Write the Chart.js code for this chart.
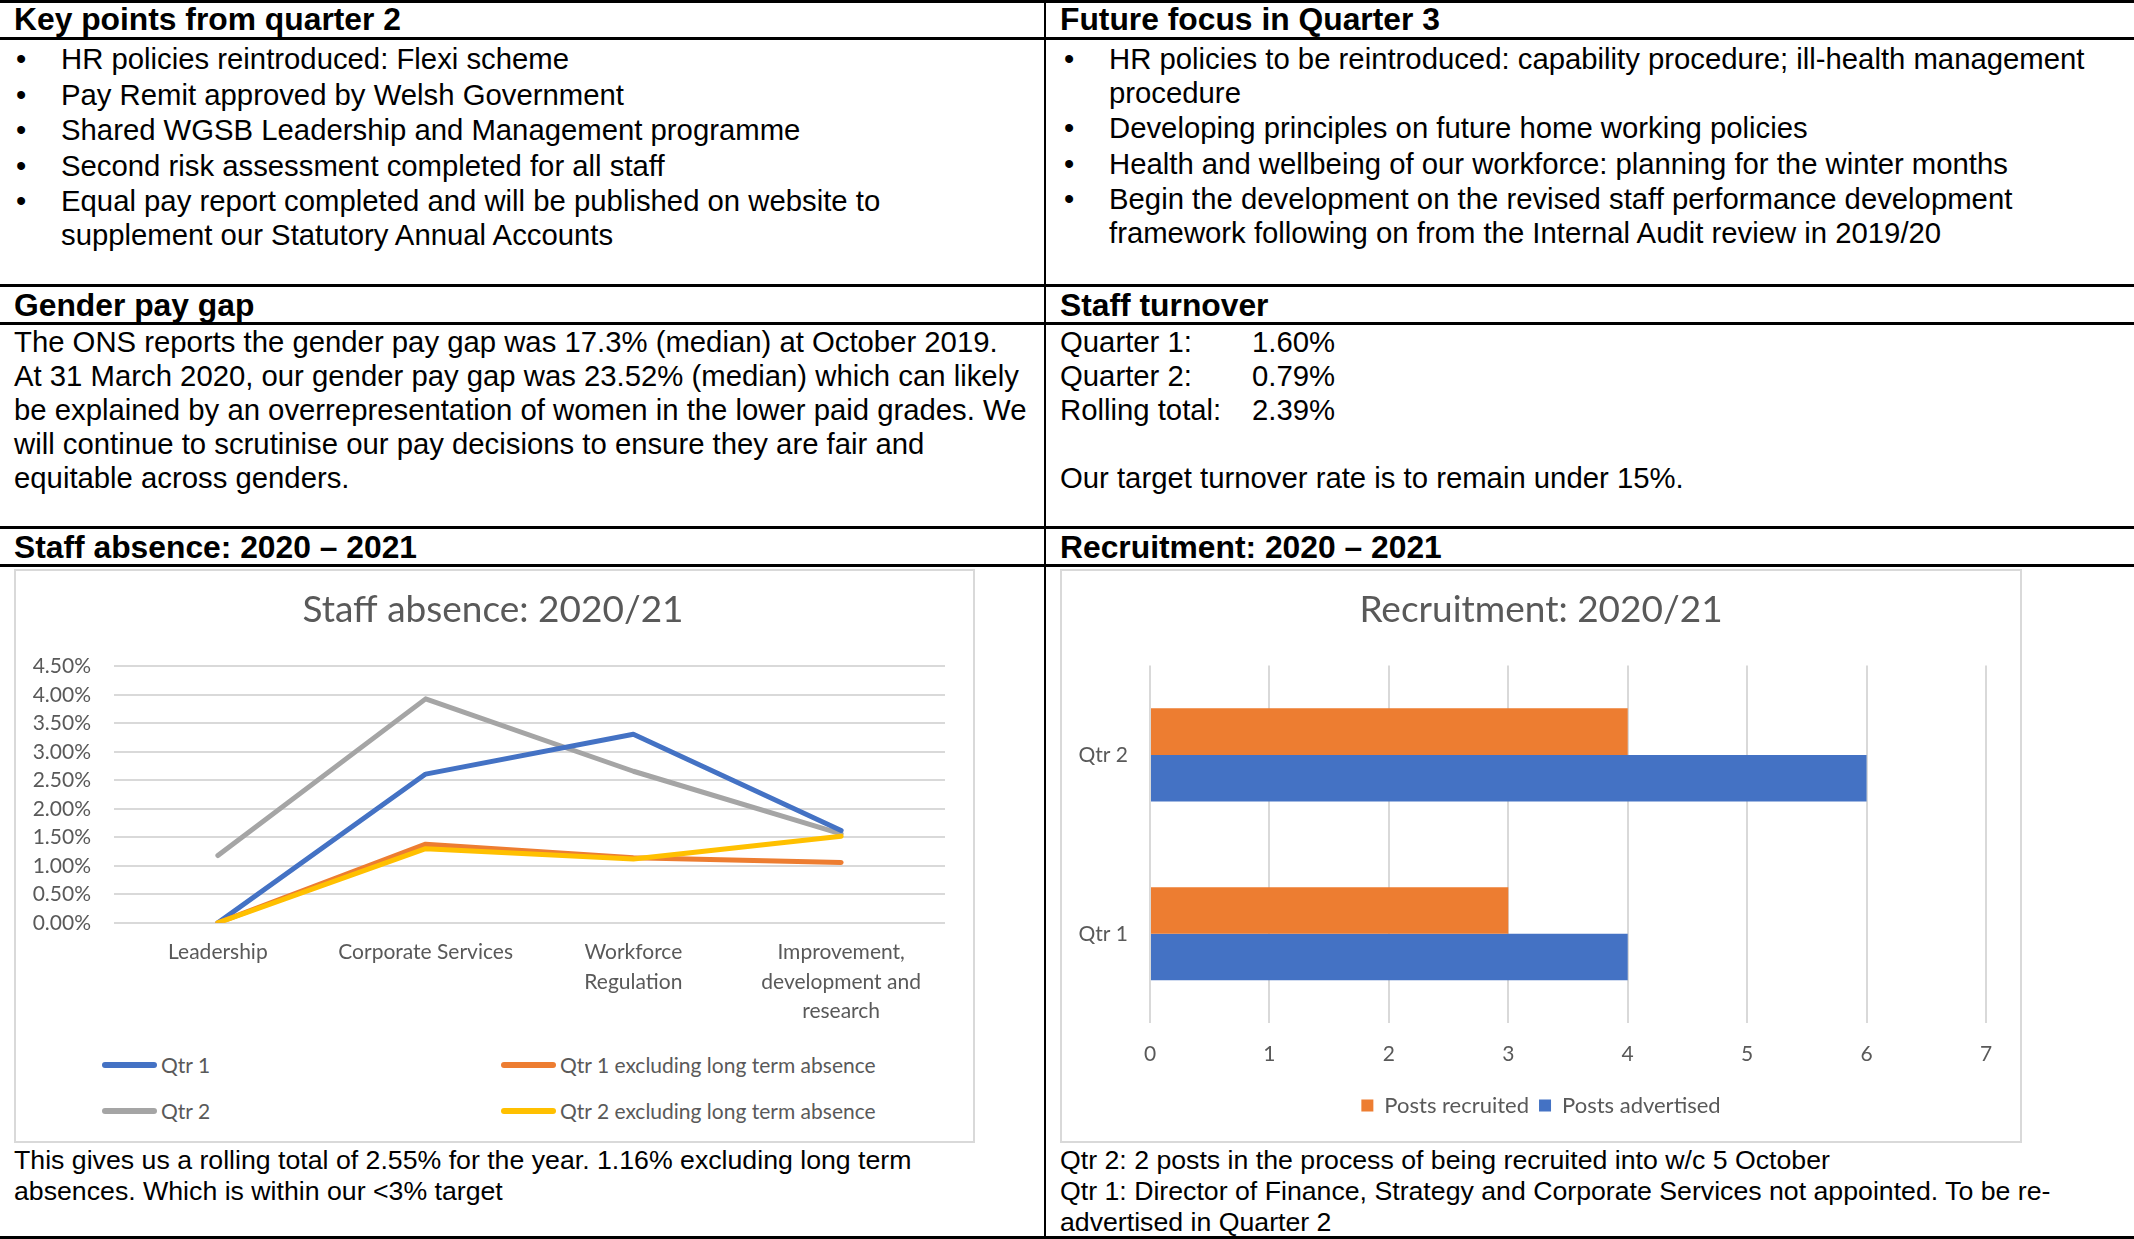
<!DOCTYPE html>
<html>
<head>
<meta charset="utf-8">
<title>Workforce report - quarter 2</title>
<script src="https://cdn.jsdelivr.net/npm/chart.js@4.4.0/dist/chart.umd.min.js"></script>
<style>
body { margin:0; width:2134px; height:1239px; position:relative; overflow:hidden; background:#fff; color:#000; font-family:"Liberation Sans", Arial, sans-serif; }
.hline { position:absolute; left:0; width:2134px; height:3px; background:#000; }
.vline { position:absolute; top:0; left:1044px; width:2px; height:1239px; background:#000; }
.head { position:absolute; font-size:31.8px; font-weight:bold; line-height:34px; white-space:nowrap; }
.txt { position:absolute; font-size:29.3px; line-height:34px; white-space:nowrap; }
.txt.small { font-size:26.7px; line-height:31px; }
.lab { display:inline-block; width:192px; }
ul.pts { position:absolute; margin:0; padding:0; list-style:none; font-size:29.3px; line-height:33.5px; white-space:nowrap; }
ul.pts li { position:relative; padding-left:45px; margin-bottom:2px; }
ul.pts li:before { content:"\2022"; position:absolute; left:0; }
.box { position:absolute; top:569px; height:574px; box-sizing:border-box; border:2px solid #d9d9d9; background:#fff; }
.cwrap { position:absolute; left:0; top:0; }
.leg { position:absolute; font-family:Lato, sans-serif; font-size:21px; color:#595959; white-space:nowrap; }
.leg span.sw { position:absolute; left:0; top:12px; width:55px; height:6px; border-radius:3px; }
.leg span.tx { position:absolute; left:59px; top:0; line-height:30px; }
</style>
</head>
<body>

<div class="hline" style="top:0"></div>
<div class="hline" style="top:37px"></div>
<div class="hline" style="top:284px"></div>
<div class="hline" style="top:322px"></div>
<div class="hline" style="top:526px"></div>
<div class="hline" style="top:564px"></div>
<div class="hline" style="top:1236px"></div>
<div class="vline"></div>

<div class="head" style="left:14px;top:2px">Key points from quarter 2</div>
<div class="head" style="left:1060px;top:2px">Future focus in Quarter 3</div>

<ul class="pts" style="left:16px;top:42px">
  <li>HR policies reintroduced: Flexi scheme</li>
  <li>Pay Remit approved by Welsh Government</li>
  <li>Shared WGSB Leadership and Management programme</li>
  <li>Second risk assessment completed for all staff</li>
  <li>Equal pay report completed and will be published on website to<br>supplement our Statutory Annual Accounts</li>
</ul>

<ul class="pts" style="left:1064px;top:42px">
  <li>HR policies to be reintroduced: capability procedure; ill-health management<br>procedure</li>
  <li>Developing principles on future home working policies</li>
  <li>Health and wellbeing of our workforce: planning for the winter months</li>
  <li>Begin the development on the revised staff performance development<br>framework following on from the Internal Audit review in 2019/20</li>
</ul>

<div class="head" style="left:14px;top:288px">Gender pay gap</div>
<div class="head" style="left:1060px;top:288px">Staff turnover</div>

<div class="txt" style="left:14px;top:325px">
The ONS reports the gender pay gap was 17.3% (median) at October 2019.<br>
At 31 March 2020, our gender pay gap was 23.52% (median) which can likely<br>
be explained by an overrepresentation of women in the lower paid grades. We<br>
will continue to scrutinise our pay decisions to ensure they are fair and<br>
equitable across genders.
</div>

<div class="txt" style="left:1060px;top:325px">
<span class="lab">Quarter 1:</span>1.60%<br>
<span class="lab">Quarter 2:</span>0.79%<br>
<span class="lab">Rolling total:</span>2.39%<br>
<br>
Our target turnover rate is to remain under 15%.
</div>

<div class="head" style="left:14px;top:530px">Staff absence: 2020 &ndash; 2021</div>
<div class="head" style="left:1060px;top:530px">Recruitment: 2020 &ndash; 2021</div>

<div class="box" style="left:14px;width:961px">
  <div class="cwrap" style="width:957px;height:476px"><canvas id="absenceChart"></canvas></div>
  <div id="absenceLegend"></div>
</div>

<div class="box" style="left:1060px;width:962px">
  <div class="cwrap" style="width:958px;height:572px"><canvas id="recruitChart"></canvas></div>
</div>

<div class="txt small" style="left:14px;top:1145px">
This gives us a rolling total of 2.55% for the year. 1.16% excluding long term<br>
absences. Which is within our &lt;3% target
</div>

<div class="txt small" style="left:1060px;top:1145px">
Qtr 2: 2 posts in the process of being recruited into w/c 5 October<br>
Qtr 1: Director of Finance, Strategy and Corporate Services not appointed. To be re-<br>
advertised in Quarter 2
</div>

<script>
// staff absence (percent)
var absenceCategories = ['Leadership', 'Corporate Services', ['Workforce', 'Regulation'], ['Improvement,', 'development and', 'research']];
var absenceQtr1 = [0, 2.61, 3.31, 1.62];
var absenceQtr2 = [1.18, 3.93, 2.66, 1.56];
var absenceQtr1Excl = [0, 1.38, 1.14, 1.06];
var absenceQtr2Excl = [0, 1.30, 1.12, 1.52];
var absenceMax = 4.5;
var absenceStep = 0.5;

// recruitment
var recruitQuarters = ['Qtr 2', 'Qtr 1'];
var postsRecruited = [4, 3];
var postsAdvertised = [6, 4];
var recruitMax = 7;

Chart.defaults.font.family = 'Lato, sans-serif';
Chart.defaults.color = '#595959';

var absenceSeries = [
    { label: 'Qtr 1', data: absenceQtr1, color: '#4472C4', order: 3 },
    { label: 'Qtr 1 excluding long term absence', data: absenceQtr1Excl, color: '#ED7D31', order: 2 },
    { label: 'Qtr 2', data: absenceQtr2, color: '#A5A5A5', order: 4 },
    { label: 'Qtr 2 excluding long term absence', data: absenceQtr2Excl, color: '#FFC000', order: 1 }
];

var lineSets = [];
var i;
for (i = 0; i < absenceSeries.length; i++) {
    lineSets.push({
        label: absenceSeries[i].label,
        data: absenceSeries[i].data,
        borderColor: absenceSeries[i].color,
        backgroundColor: absenceSeries[i].color,
        borderWidth: 5,
        borderCapStyle: 'round',
        borderJoinStyle: 'round',
        pointRadius: 0,
        tension: 0,
        order: absenceSeries[i].order
    });
}

// legend in two columns like the original
var legendBox = document.getElementById('absenceLegend');
var colX = [86, 485], rowY = [479, 525];
for (i = 0; i < absenceSeries.length; i++) {
    var item = document.createElement('div');
    item.className = 'leg';
    item.style.left = colX[i % 2] + 'px';
    item.style.top = rowY[Math.floor(i / 2)] + 'px';
    item.innerHTML = '<span class="sw" style="background:' + absenceSeries[i].color + '"></span><span class="tx">' + absenceSeries[i].label + '</span>';
    legendBox.appendChild(item);
}

// empty axis on the right, only there so the title sits in the middle of the box
function spacerAxis(pos, w) {
    return {
        type: 'linear',
        position: pos,
        display: true,
        grid: { display: false, drawTicks: false },
        border: { display: false },
        ticks: { display: false },
        afterFit: function (scale) { scale.width = w; }
    };
}

var ctx = document.getElementById('absenceChart').getContext('2d');
var absenceChart = new Chart(ctx, {
    type: 'line',
    data: {
        labels: absenceCategories,
        datasets: lineSets
    },
    options: {
        responsive: true,
        maintainAspectRatio: false,
        animation: false,
        layout: {
            padding: { left: 14, right: 17, top: 0, bottom: 6 }
        },
        plugins: {
            legend: { display: false },
            tooltip: { enabled: false },
            title: {
                display: true,
                text: 'Staff absence: 2020/21',
                color: '#595959',
                font: { size: 37, weight: 'normal' },
                padding: { top: 17, bottom: 34 }
            }
        },
        scales: {
            x: {
                offset: true,
                grid: { display: false, drawTicks: false },
                border: { display: false },
                ticks: {
                    padding: 15,
                    maxRotation: 0,
                    autoSkip: false,
                    font: { size: 21, lineHeight: 1.4 }
                }
            },
            y: {
                min: 0,
                max: absenceMax,
                grid: { color: '#d9d9d9', lineWidth: 2, drawTicks: false },
                border: { display: false },
                afterFit: function (scale) { scale.width = 84; },
                ticks: {
                    stepSize: absenceStep,
                    autoSkip: false,
                    padding: 23,
                    font: { size: 21 },
                    callback: function (v) { return v.toFixed(2) + '%'; }
                }
            },
            yRight: spacerAxis('right', 11)
        }
    }
});

var ctx2 = document.getElementById('recruitChart').getContext('2d');
var recruitChart = new Chart(ctx2, {
    type: 'bar',
    data: {
        labels: recruitQuarters,
        datasets: [{
            label: 'Posts recruited',
            data: postsRecruited,
            backgroundColor: '#ED7D31',
            categoryPercentage: 0.52,
            barPercentage: 1.0
        }, {
            label: 'Posts advertised',
            data: postsAdvertised,
            backgroundColor: '#4472C4',
            categoryPercentage: 0.52,
            barPercentage: 1.0
        }]
    },
    options: {
        indexAxis: 'y',
        responsive: true,
        maintainAspectRatio: false,
        animation: false,
        layout: {
            padding: { left: 14, right: 14, top: 0, bottom: 16.5 }
        },
        plugins: {
            tooltip: { enabled: false },
            title: {
                display: true,
                text: 'Recruitment: 2020/21',
                color: '#595959',
                font: { size: 37, weight: 'normal' },
                padding: { top: 17, bottom: 33 }
            },
            legend: {
                position: 'bottom',
                labels: {
                    boxWidth: 12,
                    boxHeight: 12,
                    padding: 10,
                    font: { size: 22 }
                }
            }
        },
        scales: {
            x: {
                min: 0,
                max: recruitMax,
                grid: { color: '#d9d9d9', lineWidth: 2, drawTicks: false },
                border: { display: false },
                ticks: { stepSize: 1, padding: 18, font: { size: 21 } }
            },
            y: {
                grid: { display: false, drawTicks: false },
                border: { display: false },
                afterFit: function (scale) { scale.width = 74; },
                ticks: { padding: 22, font: { size: 21 } }
            },
            yRight: spacerAxis('right', 20)
        }
    }
});
</script>
</body>
</html>
